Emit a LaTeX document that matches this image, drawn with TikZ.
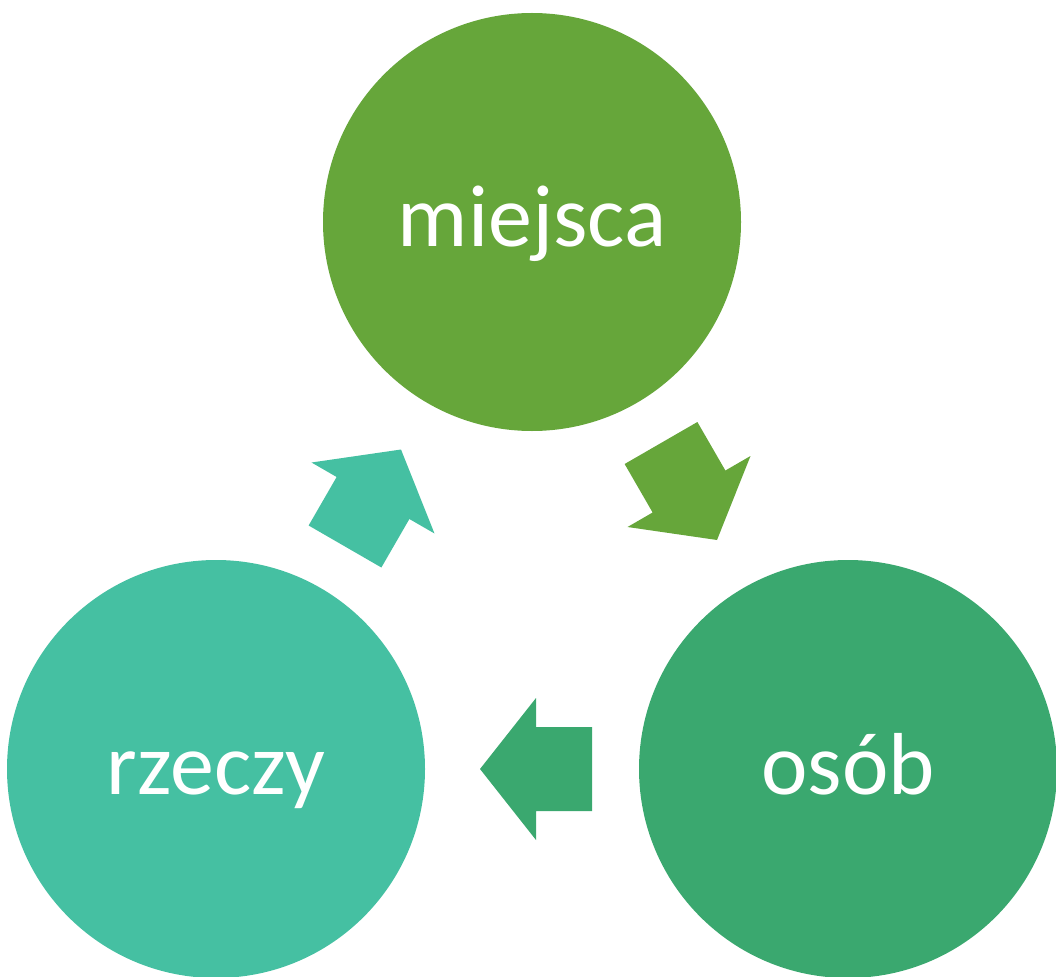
\documentclass[tikz,border=0pt]{standalone}
\usepackage{fontspec}
\setmainfont{Carlito}
\definecolor{cgreen}{HTML}{66A63A}
\definecolor{cmid}{HTML}{3AA86F}
\definecolor{cteal}{HTML}{45C0A2}
\begin{document}
\begin{tikzpicture}[x=1pt,y=1pt,
  bubble/.style={circle,minimum size=418pt,inner sep=0pt,text=white,font=\fontsize{88}{100}\selectfont},
  blockarrow/.pic={\fill (-56,-42) -- (0,-42) -- (0,-71) -- (56,0) -- (0,71) -- (0,42) -- (-56,42) -- cycle;}]
\useasboundingbox (0,0) rectangle (1056,-976);
\node[bubble,fill=cgreen] (m) at (532,-222) {};
\node[bubble,fill=cmid] (o) at (848,-769) {};
\node[bubble,fill=cteal] (r) at (216,-769) {};
\node[anchor=base,text=white,font=\fontsize{88}{100}\selectfont,inner sep=0pt] (mt) at (532,-247) {miejsca};
\node[anchor=base,text=white,font=\fontsize{88}{100}\selectfont,inner sep=0pt] (ot) at (848,-794) {osób};
\node[anchor=base,text=white,font=\fontsize{88}{100}\selectfont,inner sep=0pt] (rt) at (216,-794) {rzeczy};
\pic[cgreen,rotate=-60] at (689,-491.5) {blockarrow};
\pic[cmid,rotate=180] at (536,-769) {blockarrow};
\pic[cteal,rotate=60] at (373,-498) {blockarrow};
\end{tikzpicture}
\end{document}
